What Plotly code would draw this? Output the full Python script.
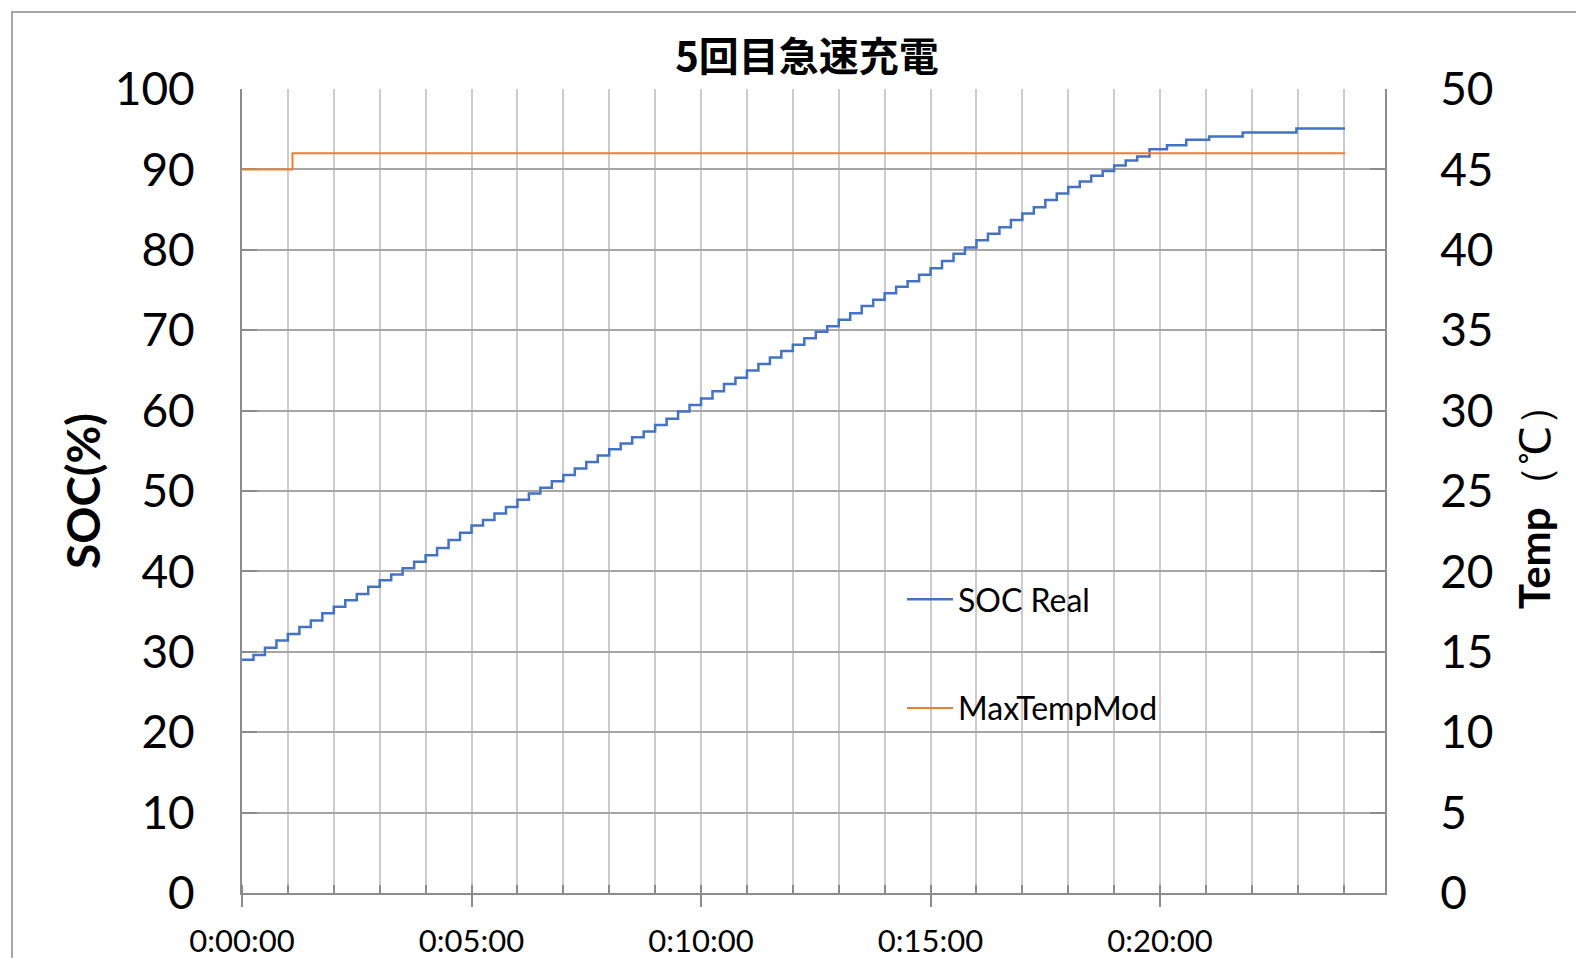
import pandas as pd
import plotly.graph_objects as go

# ---- data (minutes since start) ----
soc_minutes = [0.00, 0.25, 0.50, 0.75, 1.00, 1.25, 1.50, 1.75, 2.00, 2.25, 2.50, 2.75,
               3.00, 3.25, 3.50, 3.75, 4.00, 4.25, 4.50, 4.75, 5.00, 5.25, 5.50, 5.75,
               6.00, 6.25, 6.50, 6.75, 7.00, 7.25, 7.50, 7.75, 8.00, 8.25, 8.50, 8.75,
               9.00, 9.25, 9.50, 9.75, 10.00, 10.25, 10.50, 10.75, 11.00, 11.25, 11.50, 11.75,
               12.00, 12.25, 12.50, 12.75, 13.00, 13.25, 13.50, 13.75, 14.00, 14.25, 14.50, 14.75,
               15.00, 15.25, 15.50, 15.75, 16.00, 16.25, 16.50, 16.75, 17.00, 17.25, 17.50, 17.75,
               18.00, 18.25, 18.50, 18.75, 19.00, 19.25, 19.50, 19.77, 20.15, 20.57, 21.07, 21.80,
               22.97, 24.03]
soc_values = [29.0, 29.6, 30.5, 31.4, 32.2, 33.1, 33.9, 34.8, 35.6, 36.4, 37.2, 38.1,
              38.9, 39.6, 40.4, 41.2, 42.0, 42.9, 43.9, 44.8, 45.7, 46.4, 47.2, 48.0,
              48.9, 49.7, 50.4, 51.2, 52.0, 52.8, 53.6, 54.4, 55.2, 55.9, 56.7, 57.4,
              58.2, 59.0, 59.9, 60.7, 61.5, 62.4, 63.3, 64.1, 65.0, 65.8, 66.6, 67.4,
              68.2, 69.0, 69.8, 70.5, 71.3, 72.1, 73.0, 73.8, 74.6, 75.4, 76.1, 76.9,
              77.7, 78.6, 79.5, 80.3, 81.2, 82.0, 82.8, 83.7, 84.5, 85.3, 86.2, 87.0,
              87.8, 88.5, 89.2, 89.8, 90.5, 91.1, 91.6, 92.5, 93.0, 93.7, 94.1, 94.6,
              95.1, 95.1]

temp_minutes = [0.00, 1.10, 24.03]
temp_values = [45, 46, 46]

x_tick_minutes = [0, 5, 10, 15, 20]
axis_max_minutes = 24.9

title_text = "5回目急速充電"
soc_name = "SOC Real"
temp_name = "MaxTempMod"
y1_title = "SOC(%)"
y2_title = "<b>Temp</b>（℃）"

base = pd.Timestamp("1970-01-01 00:00:00")
to_time = lambda mins: [base + pd.Timedelta(minutes=m) for m in mins]

FONT = "Lato"
GRID_V = "#cccccc"
GRID_H = "#a6a6a6"
AXIS = "#8c8c8c"

W, H = 1576, 958
L, R, T, B = 242, 191, 89, 65
PW, PH = W - L - R, H - T - B

def px_x(px):
    return (px - L) / PW

def px_y(py):
    return (H - B - py) / PH

fig = go.Figure()
fig.add_trace(go.Scatter(
    x=to_time(soc_minutes), y=soc_values, name=soc_name, mode="lines",
    line=dict(color="#4472C4", width=2.5, shape="hv"), legendgroup="a", yaxis="y"))
fig.add_trace(go.Scatter(
    x=to_time(temp_minutes), y=temp_values, name=temp_name, mode="lines",
    line=dict(color="#ED7D31", width=2, shape="hv"), legendgroup="b", yaxis="y2"))

fig.update_layout(
    width=W, height=H,
    margin=dict(l=L, r=R, t=T, b=B, autoexpand=False),
    paper_bgcolor="white", plot_bgcolor="white",
    font=dict(family=FONT, color="black"),
    title=dict(text=title_text, x=807 / W, xanchor="center", xref="container",
               y=1 - 57 / H, yanchor="middle", yref="container",
               font=dict(family="Noto Sans CJK JP", size=40, weight=700, color="black")),
    xaxis=dict(
        type="date",
        range=to_time([0, axis_max_minutes]),
        tickmode="array", tickvals=to_time(x_tick_minutes), tickformat="%-H:%M:%S",
        showgrid=True, gridcolor=GRID_V, gridwidth=2,
        showline=True, linecolor=AXIS, linewidth=2,
        ticks="outside", ticklen=12, tickwidth=2, tickcolor=AXIS,
        ticklabelstandoff=8,
        tickfont=dict(family=FONT, size=31, color="black"),
        minor=dict(tickmode="linear", tick0=to_time([0])[0], dtick=60000,
                   showgrid=True, gridcolor=GRID_V, gridwidth=2,
                   ticks="inside", ticklen=8, tickwidth=2, tickcolor=AXIS),
        zeroline=False, layer="below traces",
    ),
    yaxis=dict(
        range=[0, 100], dtick=10, tick0=0,
        showgrid=True, gridcolor=GRID_H, gridwidth=2,
        showline=True, linecolor=AXIS, linewidth=2,
        ticks="inside", ticklen=15, tickwidth=2, tickcolor=AXIS,
        ticklabelstandoff=36,
        tickfont=dict(family=FONT, size=46, color="black"),
        zeroline=False, layer="below traces",
    ),
    yaxis2=dict(
        range=[0, 50], dtick=5, tick0=0, overlaying="y", side="right",
        showgrid=False,
        showline=True, linecolor=AXIS, linewidth=2,
        ticks="inside", ticklen=15, tickwidth=2, tickcolor=AXIS,
        ticklabelstandoff=44,
        tickfont=dict(family=FONT, size=46, color="black"),
        zeroline=False, layer="below traces",
    ),
    legend=dict(
        x=px_x(902), y=px_y(572), xanchor="left", yanchor="top",
        bgcolor="rgba(0,0,0,0)", borderwidth=0,
        font=dict(family=FONT, size=32, color="black"),
        traceorder="grouped", tracegroupgap=64, itemwidth=46,
    ),
    showlegend=True,
)

# white legend backing (covers gridlines like the original legend box)
fig.add_shape(type="rect", xref="paper", yref="paper",
              x0=px_x(893), x1=px_x(1185), y0=px_y(757), y1=px_y(537),
              fillcolor="white", line=dict(width=0), layer="between")

# outer chart border
fig.add_shape(type="rect", xref="paper", yref="paper",
              x0=px_x(12), x1=px_x(1700), y0=px_y(1100), y1=px_y(12),
              fillcolor="rgba(0,0,0,0)", line=dict(color="#a6a6a6", width=2), layer="above")

fig.add_annotation(text=y1_title, xref="paper", yref="paper",
                   x=px_x(82), y=px_y(491), xanchor="center", yanchor="middle",
                   textangle=-90, showarrow=False,
                   font=dict(family=FONT, size=46, weight=700, color="black"))
fig.add_annotation(text=y2_title, xref="paper", yref="paper",
                   x=px_x(1534), y=px_y(496), xanchor="center", yanchor="middle",
                   textangle=-90, showarrow=False,
                   font=dict(family=FONT, size=42, color="black"))

fig.write_html("out.html", config={"displayModeBar": False},
               post_script="document.body.style.margin='0px';")
